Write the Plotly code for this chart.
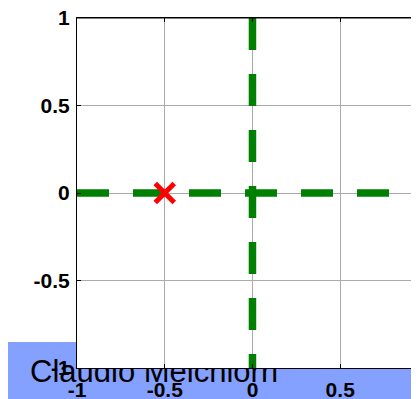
import plotly.graph_objects as go

# ---- data ----
x_range = [-1.0, 0.949]
y_range = [-1.0, 1.0]
tick_vals = [-1, -0.5, 0, 0.5, 1]
tick_text = ["-1", "-0.5", "0", "0.5", "1"]

h_line_x = [-1, 1]
h_line_y = [0, 0]
v_line_x = [0, 0]
v_line_y = [1, -1]

point_x = [-0.5]
point_y = [0]

label_text = "Claudio Melchiorri"

# ---- style ----
# the page body has an 8px margin, so the figure is laid out 8px up/left
OFF = 8
W, H = 419 - OFF, 399 - OFF
FONT = "Liberation Sans, Arial, sans-serif"
GREEN = "rgb(0,128,0)"
BLUE = "rgb(133,161,255)"
GRID = "rgb(170,170,170)"
PLOT_L, PLOT_T, PLOT_B = 77 - OFF, 18 - OFF, 368 - OFF

fig = go.Figure()

# label sits behind the plot area (drawn in the first, invisible, full-page subplot)
fig.add_trace(go.Scatter(
    x=[30 - OFF], y=[H - (374 - OFF)], mode="text", text=[label_text],
    textposition="middle right",
    textfont=dict(family=FONT, size=31, color="black"),
    cliponaxis=False, hoverinfo="skip", showlegend=False,
    xaxis="x", yaxis="y",
))

fig.add_trace(go.Scatter(
    x=h_line_x, y=h_line_y, mode="lines",
    line=dict(color=GREEN, width=7.5, dash="32px,24px"),
    hoverinfo="skip", showlegend=False, xaxis="x2", yaxis="y2",
))
fig.add_trace(go.Scatter(
    x=v_line_x, y=v_line_y, mode="lines",
    line=dict(color=GREEN, width=7.5, dash="32px,24px"),
    hoverinfo="skip", showlegend=False, xaxis="x2", yaxis="y2",
))
fig.add_trace(go.Scatter(
    x=point_x, y=point_y, mode="markers",
    marker=dict(symbol="x-thin", size=19, line=dict(color="red", width=5)),
    hoverinfo="skip", showlegend=False, xaxis="x2", yaxis="y2",
))

axis_common = dict(
    showline=True, linecolor="black", linewidth=1,
    ticks="inside", ticklen=4, tickcolor="black", tickwidth=1,
    showgrid=True, gridcolor=GRID, gridwidth=1, zeroline=False,
    tickmode="array", tickvals=tick_vals, ticktext=tick_text,
    tickfont=dict(family=FONT, size=21, color="black", weight="bold"),
    ticklabeloverflow="allow",
    fixedrange=True, automargin=False,
)

fig.update_layout(
    width=W, height=H,
    margin=dict(l=0, r=0, t=0, b=0),
    paper_bgcolor="white", plot_bgcolor="white",
    xaxis=dict(visible=False, range=[0, W], domain=[0, 1], fixedrange=True),
    yaxis=dict(visible=False, range=[0, H], domain=[0, 1], fixedrange=True),
    xaxis2=dict(anchor="y2", range=x_range, mirror="ticks",
                domain=[PLOT_L / W, 1], ticklabelstandoff=3, **axis_common),
    yaxis2=dict(anchor="x2", range=y_range, mirror=False,
                domain=[(H - PLOT_B) / H, (H - PLOT_T) / H],
                ticklabelstandoff=2, **axis_common),
    shapes=[
        dict(type="rect", xref="x", yref="y",
             x0=7 - OFF, x1=W, y0=-OFF, y1=H - (342 - OFF),
             fillcolor=BLUE, line=dict(width=0), layer="below"),
        dict(type="rect", xref="x2", yref="y2",
             x0=x_range[0], x1=x_range[1], y0=y_range[0], y1=y_range[1],
             fillcolor="white", line=dict(width=0), layer="below"),
        dict(type="line", xref="x2 domain", yref="y2 domain",
             x0=0, x1=1, y0=1, y1=1,
             line=dict(color="black", width=1), layer="above"),
    ],
)

fig.write_html("out.html", config={"displayModeBar": False})
